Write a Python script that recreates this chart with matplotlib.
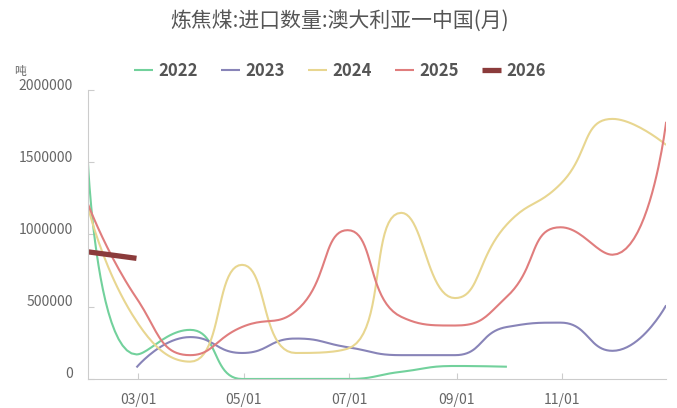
import numpy as np
import matplotlib
matplotlib.use("Agg")
import matplotlib.pyplot as plt
import matplotlib.dates as mdates
import matplotlib.transforms as mtransforms
from datetime import date

plt.rcParams['font.family'] = ['Noto Sans CJK SC', 'DejaVu Sans']

# monthly import volume (tonnes), dated at month end
months = [date(2021, m, d) for m, d in
          [(1, 31), (2, 28), (3, 31), (4, 30), (5, 31), (6, 30),
           (7, 31), (8, 31), (9, 30), (10, 31), (11, 30), (12, 31)]]

v2022 = [1490000, 170000, 340000, 0, 0, 0, 50000, 90000, 85000]
v2023 = [80000, 290000, 180000, 280000, 220000, 165000, 165000, 360000, 390000, 195000, 510000]
v2024 = [1190000, 400000, 120000, 790000, 180000, 210000, 1150000, 560000, 1070000, 1350000, 1800000, 1620000]
v2025 = [1210000, 560000, 165000, 360000, 470000, 1030000, 430000, 370000, 570000, 1050000, 860000, 1780000]
v2026 = [880000, 835000]

series = [
    ("2022", months[:9], v2022, "#72d19c", 1.5),
    ("2023", months[1:], v2023, "#8884b8", 1.5),
    ("2024", months, v2024, "#e8d690", 1.5),
    ("2025", months, v2025, "#e07d7d", 1.5),
    ("2026", months[:2], v2026, "#8b3b3b", 3.8),
]


def smooth_path(px, py, smooth=0.5, n=24):
    # bezier smoothing with clamped control points (pixel space)
    xs, ys = [px[0]], [py[0]]
    cp0x, cp0y = px[0], py[0]
    for i in range(1, len(px)):
        x, y = px[i], py[i]
        prevx, prevy = px[i - 1], py[i - 1]
        if i + 1 < len(px):
            nx, ny = px[i + 1], py[i + 1]
            dx, dy = nx - prevx, ny - prevy
            l0 = np.hypot(x - prevx, y - prevy)
            l1 = np.hypot(nx - x, ny - y)
            r = l1 / (l0 + l1) if l0 + l1 > 0 else 0.5
            ncx = x + dx * smooth * r
            ncy = y + dy * smooth * r
            ncx = min(ncx, max(nx, x)); ncy = min(ncy, max(ny, y))
            ncx = max(ncx, min(nx, x)); ncy = max(ncy, min(ny, y))
            dx, dy = ncx - x, ncy - y
            if l1 > 0:
                c1x = x - dx * l0 / l1
                c1y = y - dy * l0 / l1
            else:
                c1x, c1y = x, y
            c1x = min(c1x, max(prevx, x)); c1y = min(c1y, max(prevy, y))
            c1x = max(c1x, min(prevx, x)); c1y = max(c1y, min(prevy, y))
            dx, dy = x - c1x, y - c1y
            if l0 > 0:
                ncx = x + dx * l1 / l0
                ncy = y + dy * l1 / l0
            else:
                ncx, ncy = x, y
        else:
            c1x, c1y = x, y
            ncx, ncy = x, y
        t = np.linspace(0, 1, n)[1:]
        a = (1 - t) ** 3
        b = 3 * (1 - t) ** 2 * t
        c = 3 * (1 - t) * t ** 2
        d = t ** 3
        xs.extend(a * prevx + b * cp0x + c * c1x + d * x)
        ys.extend(a * prevy + b * cp0y + c * c1y + d * y)
        cp0x, cp0y = ncx, ncy
    return np.array(xs), np.array(ys)


fig = plt.figure(figsize=(6.77, 4.08), dpi=100)
ax = fig.add_axes([0.130, 0.0711, 0.854, 0.7083])
ax.set_xlim(mdates.date2num(date(2021, 1, 31)), mdates.date2num(date(2021, 12, 31)))
ax.set_ylim(0, 2000000)

handles = []
for name, ds, vals, color, lw in series:
    pts = np.column_stack([mdates.date2num(ds), vals])
    disp = ax.transData.transform(pts)
    sx, sy = smooth_path(disp[:, 0], disp[:, 1])
    back = ax.transData.inverted().transform(np.column_stack([sx, sy]))
    h, = ax.plot(back[:, 0], back[:, 1], color=color, lw=lw,
                 solid_capstyle='butt', label=name)
    handles.append(h)

ax.xaxis.set_major_locator(mdates.MonthLocator(bymonth=[3, 5, 7, 9, 11]))
ax.xaxis.set_major_formatter(mdates.DateFormatter("%m/%d"))
ax.set_yticks([0, 500000, 1000000, 1500000, 2000000])
ax.set_yticklabels(["0", "500000", "1000000", "1500000", "2000000"])

for s in ["top", "right"]:
    ax.spines[s].set_visible(False)
for s in ["left", "bottom"]:
    ax.spines[s].set_color("#cccccc")
    ax.spines[s].set_linewidth(0.8)

ax.tick_params(axis="x", direction="in", length=4, color="#cccccc",
               labelsize=10, labelcolor="#666666", pad=10)
ax.tick_params(axis="y", direction="in", length=4, color="#cccccc",
               labelsize=10, labelcolor="#666666", pad=11)

# y labels sit a little above their ticks
shift = mtransforms.ScaledTranslation(0, 0.06, fig.dpi_scale_trans)
for lab in ax.get_yticklabels():
    lab.set_transform(lab.get_transform() + shift)

fig.text(0.021, 0.825, "吨", fontsize=8.5, color="#666666", ha="left", va="center")
fig.text(0.502, 0.948, "炼焦煤:进口数量:澳大利亚一中国(月)", fontsize=15,
         color="#555555", ha="center", va="center")

leg = fig.legend(handles=handles, loc="center", bbox_to_anchor=(0.502, 0.826),
                 ncol=5, frameon=False, handlelength=1.15, handletextpad=0.35,
                 columnspacing=1.35, prop={"size": 12, "weight": "bold"})
for t in leg.get_texts():
    t.set_color("#555555")

fig.savefig("out.png", dpi=100)
